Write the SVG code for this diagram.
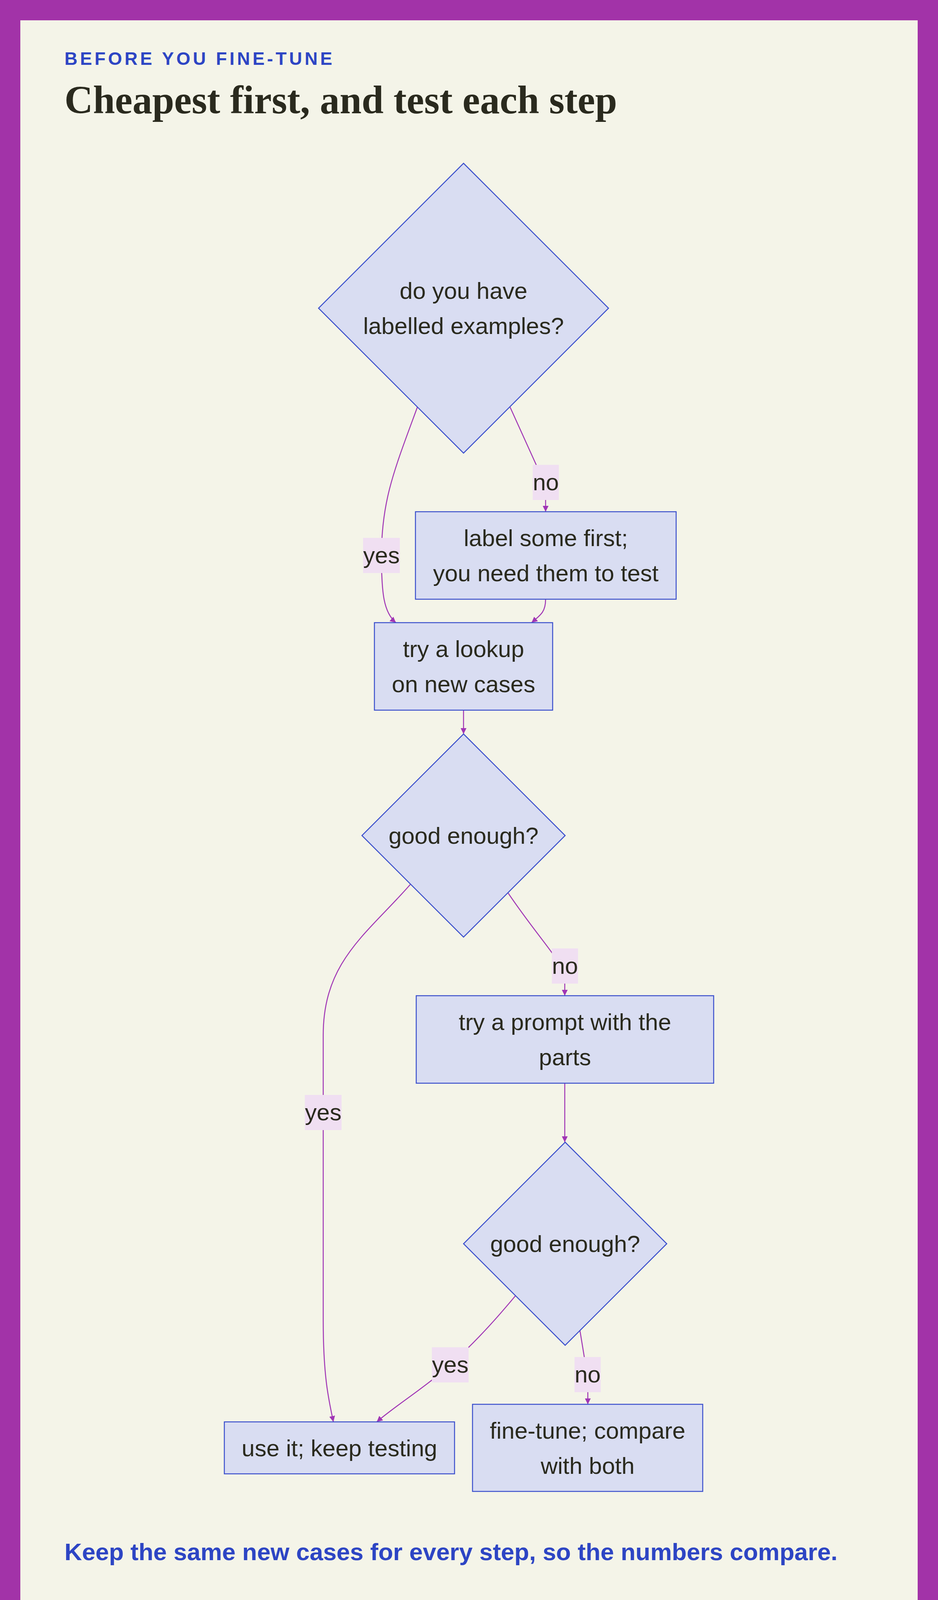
<svg xmlns="http://www.w3.org/2000/svg" width="2400" height="4300" viewBox="0 0 2400 4300">
<defs>
<style>
.node{fill:#d9ddf2;stroke:#3b4fcc;stroke-width:2.5}
.nt{font-family:"Liberation Sans",Arial,sans-serif;font-size:60px;fill:#2a2a1e;text-anchor:middle}
.edge{fill:none;stroke:#a035b5;stroke-width:2.5}
.lbg{fill:#f0dff2}
.kick{font-family:"Liberation Sans",Arial,sans-serif;font-weight:bold;font-size:46px;fill:#2d45c4;letter-spacing:6.5px}
.title{font-family:"Liberation Serif","Times New Roman",serif;font-weight:bold;font-size:101px;fill:#2a2a1e}
.foot{font-family:"Liberation Sans",Arial,sans-serif;font-weight:bold;font-size:62px;fill:#2d45c4}
.brand{font-family:"Liberation Sans",Arial,sans-serif;font-weight:bold;font-size:46px;fill:#2d45c4;letter-spacing:8.5px}
</style>
<marker id="arr" viewBox="0 0 10 10" refX="10" refY="5" markerWidth="15" markerHeight="15" markerUnits="userSpaceOnUse" orient="auto">
<path d="M0,0 L10,5 L0,10 z" fill="#a035b5"/>
</marker>
</defs>
<rect x="0" y="0" width="2400" height="4300" fill="#a233a8"/>
<rect x="52" y="52" width="2296" height="4196" fill="#f4f4e8"/>
<text class="kick" x="165" y="166">BEFORE YOU FINE-TUNE</text>
<text class="title" x="165" y="290">Cheapest first, and test each step</text>

<g id="connectors">
<path class="edge" d="M1068,1042 C1010,1200 976,1280 976,1422 C976,1520 982,1568 1013,1594" marker-end="url(#arr)"/>
<path class="edge" d="M1305,1042 L1372,1190 Q1396,1240 1396,1280 L1396,1310" marker-end="url(#arr)"/>
<path class="edge" d="M1396,1534 C1396,1566 1384,1574 1360,1594" marker-end="url(#arr)"/>
<path class="edge" d="M1186,1818 L1186,1879" marker-end="url(#arr)"/>
<path class="edge" d="M1050,2264 C940,2390 827,2460 827,2650 L827,3380 C827,3520 840,3580 853,3640" marker-end="url(#arr)"/>
<path class="edge" d="M1300,2286 C1350,2360 1400,2420 1420,2450 L1445,2500 L1445,2549" marker-end="url(#arr)"/>
<path class="edge" d="M1445,2773 L1445,2924" marker-end="url(#arr)"/>
<path class="edge" d="M1319,3317 C1250,3400 1200,3450 1152,3494 C1090,3550 1010,3600 964,3640" marker-end="url(#arr)"/>
<path class="edge" d="M1484,3407 L1495,3474 L1504,3540 L1504,3595" marker-end="url(#arr)"/>
<g id="edge-labels">
<rect class="lbg" x="1363" y="1190" width="67" height="90"/>
<text class="nt" x="1396.5" y="1255">no</text>
<rect class="lbg" x="929" y="1377" width="94" height="90"/>
<text class="nt" x="976" y="1442">yes</text>
<rect class="lbg" x="1412" y="2428" width="67" height="90"/>
<text class="nt" x="1445.5" y="2493">no</text>
<rect class="lbg" x="780" y="2803" width="94" height="90"/>
<text class="nt" x="827" y="2868">yes</text>
<rect class="lbg" x="1105" y="3449" width="94" height="90"/>
<text class="nt" x="1152" y="3514">yes</text>
<rect class="lbg" x="1470" y="3474" width="67" height="90"/>
<text class="nt" x="1503.5" y="3539">no</text>
</g>
</g>

<g id="q-labelled">
<polygon class="node" points="1186,418 1557,789 1186,1160 815,789"/>
<text class="nt" x="1186" y="765">do you have</text>
<text class="nt" x="1186" y="855">labelled examples?</text>
</g>
<g id="label-first">
<rect class="node" x="1063" y="1310" width="667" height="224"/>
<text class="nt" x="1396.5" y="1398">label some first;</text>
<text class="nt" x="1396.5" y="1488">you need them to test</text>
</g>
<g id="try-lookup">
<rect class="node" x="958" y="1594" width="456" height="224"/>
<text class="nt" x="1186" y="1682">try a lookup</text>
<text class="nt" x="1186" y="1772">on new cases</text>
</g>
<g id="q-good1">
<polygon class="node" points="1186,1879 1446,2139 1186,2399 926,2139"/>
<text class="nt" x="1186" y="2160">good enough?</text>
</g>
<g id="try-prompt">
<rect class="node" x="1065" y="2549" width="761" height="224"/>
<text class="nt" x="1445.5" y="2637">try a prompt with the</text>
<text class="nt" x="1445.5" y="2727">parts</text>
</g>
<g id="q-good2">
<polygon class="node" points="1446,2924 1706,3184 1446,3444 1186,3184"/>
<text class="nt" x="1446" y="3205">good enough?</text>
</g>
<g id="use-it">
<rect class="node" x="574" y="3640" width="589" height="133"/>
<text class="nt" x="868.5" y="3728">use it; keep testing</text>
</g>
<g id="fine-tune">
<rect class="node" x="1209" y="3595" width="589" height="223"/>
<text class="nt" x="1503.5" y="3683">fine-tune; compare</text>
<text class="nt" x="1503.5" y="3773">with both</text>
</g>

<text class="foot" x="165" y="3994">Keep the same new cases for every step, so the numbers compare.</text>
<rect x="166" y="4158" width="26" height="25" rx="4" fill="#2d45c4"/>
<text class="brand" x="212" y="4186">SYSTEMDESIGN.ACADEMY</text>
</svg>
